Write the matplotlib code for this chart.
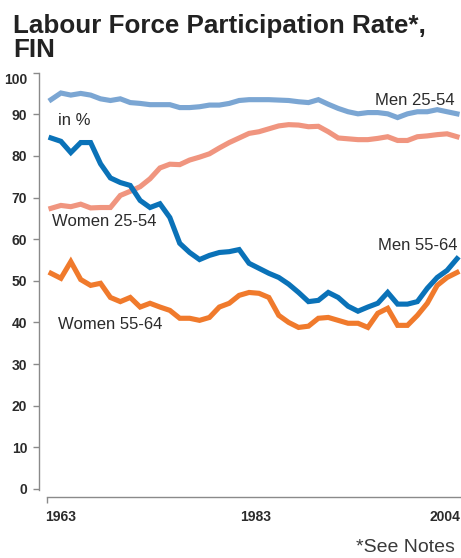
import matplotlib
matplotlib.use("Agg")
import matplotlib.pyplot as plt
import matplotlib.transforms as mtransforms

# Finland labour force participation, %
years = list(range(1963, 2005))

men_25_54 = [93.5, 95.1, 94.6, 95.0, 94.6, 93.7, 93.3, 93.7, 92.8, 92.6,
             92.3, 92.3, 92.3, 91.6, 91.6, 91.8, 92.2, 92.2, 92.6, 93.3,
             93.5, 93.5, 93.5, 93.4, 93.3, 93.0, 92.8, 93.5, 92.4, 91.4,
             90.6, 90.1, 90.4, 90.4, 90.1, 89.2, 90.1, 90.6, 90.6, 91.1,
             90.6, 90.1]
women_25_54 = [67.4, 68.1, 67.8, 68.4, 67.5, 67.6, 67.6, 70.5, 71.5, 72.6,
               74.5, 77.1, 78.0, 77.9, 79.0, 79.7, 80.5, 81.9, 83.2, 84.3,
               85.4, 85.8, 86.5, 87.2, 87.5, 87.4, 87.0, 87.1, 85.8, 84.3,
               84.1, 83.9, 83.9, 84.2, 84.6, 83.7, 83.7, 84.6, 84.8, 85.1,
               85.3, 84.6]
men_55_64 = [84.3, 83.5, 80.8, 83.2, 83.2, 78.1, 74.7, 73.6, 72.9, 69.3,
             67.6, 68.5, 65.2, 59.0, 56.8, 55.1, 56.1, 56.8, 57.0, 57.5,
             54.2, 53.0, 51.8, 50.8, 49.2, 47.2, 45.0, 45.3, 47.2, 46.0,
             43.9, 42.7, 43.7, 44.6, 47.2, 44.4, 44.4, 45.0, 48.2, 50.8,
             52.5, 55.3]
women_55_64 = [51.8, 50.6, 54.6, 50.3, 48.9, 49.4, 46.0, 45.0, 46.0, 43.7,
               44.6, 43.7, 42.9, 41.0, 41.0, 40.5, 41.2, 43.7, 44.6, 46.5,
               47.2, 47.0, 46.0, 41.7, 40.0, 38.8, 39.1, 41.0, 41.2, 40.5,
               39.8, 39.8, 38.8, 42.2, 43.4, 39.3, 39.3, 41.7, 44.6, 48.9,
               50.8, 52.0]

yticks = list(range(0, 101, 10))
xtick_years = [1963, 1983, 2004]

SANS = ["Liberation Sans", "DejaVu Sans"]
TXT = "#2b2b2b"
AXC = "#8a8a8a"

W, H = 461, 558
fig = plt.figure(figsize=(W / 100, H / 100), dpi=100)

# axes box in pixels: x 39..461, y(100)=72.6, y(0)=489
ax = fig.add_axes([39 / W, (H - 489) / H, 422 / W, (489 - 72.6) / H])
ax.set_xlim(1963 - 12 / 9.9, 2004 + 4 / 9.9)
ax.set_ylim(0, 100)

lw = 3.7
ax.plot(years, men_25_54, color="#7ba6d3", lw=lw, solid_joinstyle="miter")
ax.plot(years, women_25_54, color="#f0957f", lw=lw, solid_joinstyle="miter")
ax.plot(years, women_55_64, color="#f07a2c", lw=lw, solid_joinstyle="miter")
ax.plot(years, men_55_64, color="#0a72b8", lw=lw, solid_joinstyle="miter")

for s in ["top", "right"]:
    ax.spines[s].set_visible(False)
ax.spines["left"].set_color(AXC)
ax.spines["left"].set_linewidth(1.0)
ax.spines["left"].set_bounds(-0.2, 100)
ax.spines["bottom"].set_color(AXC)
ax.spines["bottom"].set_linewidth(1.0)
ax.spines["bottom"].set_position(("outward", 5.8))
ax.spines["bottom"].set_bounds(1963 - 4 / 9.9, 2004 + 4 / 9.9)

ax.set_yticks(yticks)
ax.set_yticklabels([str(v) for v in yticks])
ax.tick_params(axis="y", length=4.5, width=1.0, color=AXC, pad=4,
               labelsize=10, labelcolor=TXT)
for lab in ax.get_yticklabels():
    lab.set_family(SANS)
    lab.set_fontweight("bold")
ax.get_yticklabels()[-1].set_verticalalignment("top")

ax.set_xticks(xtick_years)
ax.set_xticklabels([str(v) for v in xtick_years])
ax.set_xticks([1963 - 4 / 9.9], minor=True)
ax.tick_params(axis="x", which="major", length=0, pad=9,
               labelsize=10, labelcolor=TXT)
ax.tick_params(axis="x", which="minor", length=4, width=1.0, color=AXC)
shifts = [10, 7, -12]
for lab, dx in zip(ax.get_xticklabels(), shifts):
    lab.set_family(SANS)
    lab.set_fontweight("bold")
    lab.set_transform(lab.get_transform() +
                      mtransforms.ScaledTranslation(dx / 100, 0, fig.dpi_scale_trans))

# series labels
lab_kw = dict(fontsize=12, color=TXT, family=SANS)
ax.text(2004 - 0.2, 93.3, "Men 25-54", ha="right", va="center", **lab_kw)
ax.text(1963.7, 88.4, "in %", ha="left", va="center", **lab_kw)
ax.text(1963.1, 64.2, "Women 25-54", ha="left", va="center", **lab_kw)
ax.text(1963.7, 39.6, "Women 55-64", ha="left", va="center", **lab_kw)
ax.text(2004 + 0.1, 58.5, "Men 55-64", ha="right", va="center", **lab_kw)

# title and footnote
fig.text(13 / W, 1 - 33 / H, "Labour Force Participation Rate*,", ha="left",
         va="baseline", fontsize=18.7, fontweight="bold", color="#222222", family=SANS)
fig.text(13 / W, 1 - 57 / H, "FIN", ha="left", va="baseline",
         fontsize=18.7, fontweight="bold", color="#222222", family=SANS)
fig.text(356 / W, 1 - 552 / H, "*See Notes", ha="left", va="baseline",
         fontsize=14, color="#3a3a3a", family=SANS)

fig.savefig("out.png", dpi=100)
